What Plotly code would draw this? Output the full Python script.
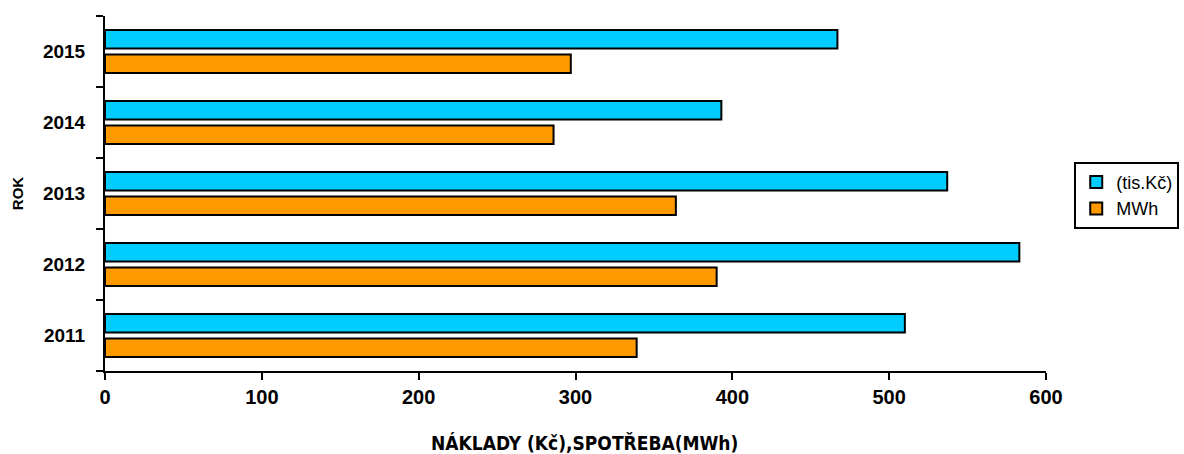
import plotly.graph_objects as go

years = ["2011", "2012", "2013", "2014", "2015"]
naklady = [510, 583, 537, 393, 467]      # (tis.Kč)
spotreba = [339, 390, 364, 286, 297]     # MWh
x_ticks = [0, 100, 200, 300, 400, 500, 600]

ARIAL = "Liberation Sans, Arial, sans-serif"

fig = go.Figure()
fig.add_trace(go.Bar(
    y=years, x=spotreba, orientation="h", name="MWh",
    marker=dict(color="#FF9900", line=dict(color="black", width=2)),
    legendrank=2,
))
fig.add_trace(go.Bar(
    y=years, x=naklady, orientation="h", name="(tis.Kč)",
    marker=dict(color="#00CCFF", line=dict(color="black", width=2)),
    legendrank=1,
))

fig.update_layout(
    width=1184, height=454,
    margin=dict(l=105, r=138, t=16, b=83, autoexpand=False),
    paper_bgcolor="white", plot_bgcolor="white",
    barmode="group", bargap=0.31, bargroupgap=0.245,
    font=dict(family=ARIAL, color="black", size=16),
    showlegend=True,
    legend=dict(
        x=1.03, y=0.495, xanchor="left", yanchor="middle",
        bordercolor="black", borderwidth=2,
        font=dict(size=18, family=ARIAL),
        itemwidth=30, tracegroupgap=2,
    ),
    annotations=[dict(
        text="<b>NÁKLADY (Kč),SPOTŘEBA(MWh)</b>",
        xref="paper", yref="paper", x=0.51, y=-0.204,
        xanchor="center", yanchor="middle", showarrow=False,
        font=dict(size=19, family="Liberation Sans Narrow, DejaVu Sans Condensed, sans-serif"),
    )],
)

fig.update_xaxes(
    range=[0, 600], tickvals=x_ticks, ticktext=[str(v) for v in x_ticks],
    showgrid=False, zeroline=False,
    showline=True, linecolor="black", linewidth=2,
    ticks="outside", ticklen=7, tickwidth=2, tickcolor="black",
    tickfont=dict(size=20, family=ARIAL, weight="bold"),
)
fig.update_yaxes(
    type="category", categoryorder="array", categoryarray=years,
    range=[-0.5, 4.5],
    showgrid=False, zeroline=False,
    showline=True, linecolor="black", linewidth=2,
    ticks="outside", tickson="boundaries", ticklen=7, tickwidth=2, tickcolor="black",
    tickfont=dict(size=19, family=ARIAL, weight="bold"),
    ticklabelstandoff=14,
    title=dict(text="ROK", font=dict(size=15, family=ARIAL, weight="bold"),
               standoff=16),
)

fig.write_html("out.html", config={"displayModeBar": False},
               post_script="document.body.style.margin='0px';")
